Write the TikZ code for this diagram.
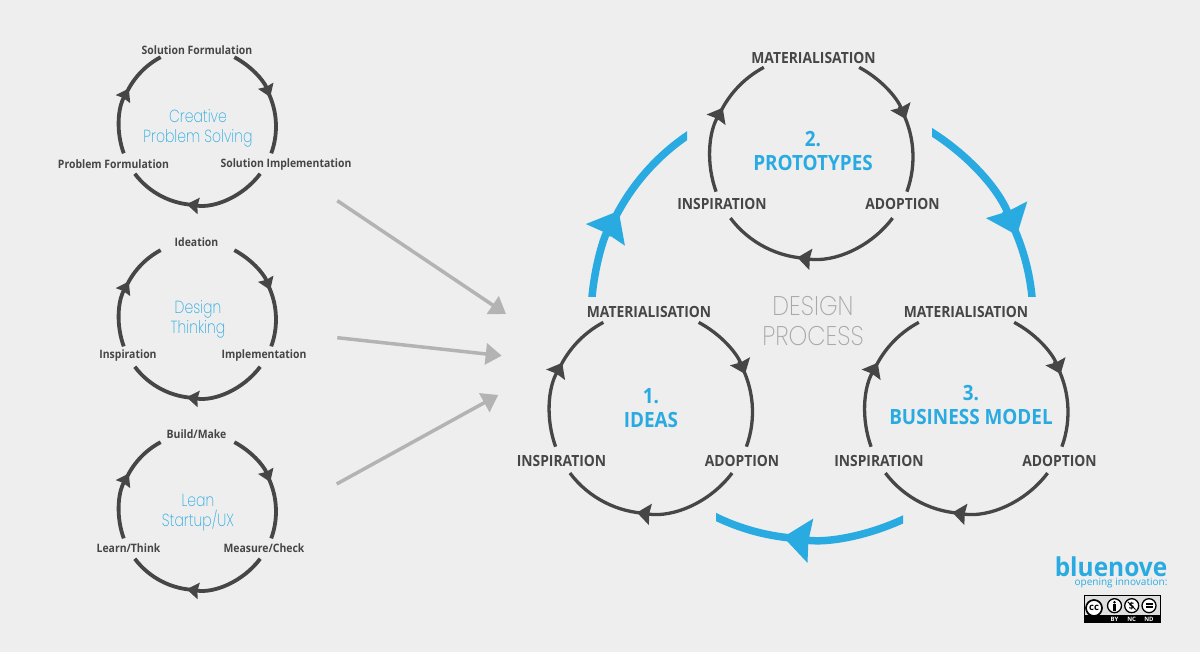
\documentclass[tikz,border=0pt]{standalone}
\usepackage{fontspec}
\setmainfont{Open Sans}[FakeStretch=0.9]
\newfontfamily\logof{Open Sans}[FakeStretch=0.94]
\newfontfamily\thinf{Poppins ExtraLight}[FakeStretch=0.8]
\newfontfamily\dsgf{Poppins ExtraLight}[FakeStretch=0.88]
\newfontfamily\plainf{Open Sans}
\usetikzlibrary{arrows.meta,calc}
\definecolor{bgc}{HTML}{EEEEEE}
\definecolor{dk}{HTML}{464646}
\definecolor{blu}{HTML}{29ABE2}
\definecolor{gra}{HTML}{B3B3B3}
\definecolor{dsg}{HTML}{A8A8A8}
\tikzset{
 biglabel/.style={font=\fontsize{15.4}{16}\selectfont\bfseries,text=dk,inner sep=0pt},
 smlabel/.style={font=\fontsize{11.6}{12}\selectfont\bfseries,text=dk,inner sep=0pt},
 bigtitle/.style={font=\fontsize{21}{24}\selectfont\bfseries,text=blu,inner sep=0pt},
 smtitle/.style={font=\thinf\fontsize{17.5}{20}\selectfont,text=blu,inner sep=0pt},
 dsgtitle/.style={font=\dsgf\fontsize{27}{30}\selectfont,text=dsg,inner sep=0pt},
 biggrey/.style={draw=gra,line width=3.5pt,-{Triangle[length=16pt,width=21pt,fill=gra]}},
 bigarc/.style={draw=dk,line width=3.3pt},
 smarc/.style={draw=dk,line width=3.8pt},
 bigtip/.style={-{Stealth[length=13.5pt,width=21pt,inset=1.2pt,fill=dk]}},
 smtip/.style={-{Stealth[length=12pt,width=16pt,inset=1pt,fill=dk]}},
 bluarc/.style={draw=blu,line width=7.5pt},
 blutip/.style={-{Stealth[length=27pt,width=43pt,inset=1.5pt,fill=blu]}},
 ccring/.style={draw=black,line width=1.3pt,fill=white,circle,inner sep=0pt,minimum size=14pt},
 cctext/.style={inner sep=0pt,text=white,font=\plainf\fontsize{6}{6}\selectfont\bfseries},
}
% \cyc{name}{cx}{cy}{r}{arc style}{tip style}
\newcommand{\cyc}[6]{%
 \coordinate (#1) at (#2,#3);
 \coordinate (#1a) at ($(#1)+(62:#4)$);
 \coordinate (#1b) at ($(#1)+(-37:#4)$);
 \coordinate (#1c) at ($(#1)+(200:#4)$);
 \draw[#5,#6] (#1a) arc[start angle=62,end angle=22,radius=#4];
 \draw[#5] (#1)++(30:#4) arc[start angle=30,end angle=-20,radius=#4];
 \draw[#5,#6] (#1b) arc[start angle=-37,end angle=-98,radius=#4];
 \draw[#5] (#1)++(-91:#4) arc[start angle=-91,end angle=-143,radius=#4];
 \draw[#5,#6] (#1c) arc[start angle=200,end angle=151,radius=#4];
 \draw[#5] (#1)++(158:#4) arc[start angle=158,end angle=118,radius=#4];
}
\begin{document}
\begin{tikzpicture}[x=1pt,y=1pt]
\useasboundingbox (0,0) rectangle (1200,652);
\fill[bgc] (0,0) rectangle (1200,652);
% small cycles
\cyc{s1}{197.5}{525.5}{78.5}{smarc}{smtip}
\cyc{s2}{197.5}{332.5}{78.5}{smarc}{smtip}
\cyc{s3}{197.5}{140.5}{78.5}{smarc}{smtip}
\node[smlabel] (s1t) at (197,601.5) {Solution Formulation};
\node[smlabel] (s1l) at (113.5,488) {Problem Formulation};
\node[smlabel] (s1r) at (286,488) {Solution Implementation};
\node[smtitle,align=center] (s1m) at (198,524) {Creative\\Problem Solving};
\node[smlabel] (s2t) at (196.5,410) {Ideation};
\node[smlabel] (s2l) at (128,297) {Inspiration};
\node[smlabel] (s2r) at (264,297) {Implementation};
\node[smtitle,align=center] (s2m) at (198,333) {Design\\Thinking};
\node[smlabel] (s3t) at (196.5,218) {Build/Make};
\node[smlabel] (s3l) at (128.5,104) {Learn/Think};
\node[smlabel] (s3r) at (264,104) {Measure/Check};
\node[smtitle,align=center] (s3m) at (198,139.5) {Lean\\Startup/UX};
% big cycles
\cyc{b1}{651}{240}{101.5}{bigarc}{bigtip}
\cyc{b2}{811.5}{495}{101.5}{bigarc}{bigtip}
\cyc{b3}{966.5}{240}{101.5}{bigarc}{bigtip}
\node[biglabel] (b1t) at (649,340) {MATERIALISATION};
\node[biglabel] (b1l) at (561.5,191.5) {INSPIRATION};
\node[biglabel] (b1r) at (742,191.5) {ADOPTION};
\node[bigtitle,align=center] (b1m) at (651,244) {1.\\IDEAS};
\node[biglabel] (b2t) at (813.5,594) {MATERIALISATION};
\node[biglabel] (b2l) at (722,447.5) {INSPIRATION};
\node[biglabel] (b2r) at (902.5,447.5) {ADOPTION};
\node[bigtitle,align=center] (b2m) at (813,500.5) {2.\\PROTOTYPES};
\node[biglabel] (b3t) at (966,340) {MATERIALISATION};
\node[biglabel] (b3l) at (879,191.5) {INSPIRATION};
\node[biglabel] (b3r) at (1059.5,191.5) {ADOPTION};
\node[bigtitle,align=center] (b3m) at (971,247) {3.\\BUSINESS MODEL};
\node[dsgtitle,align=center] (dp) at (813,331) {DESIGN\\PROCESS};
% blue arcs
\coordinate (C) at (812,334);
\begin{scope}
\clip (560,355) rectangle (687,560);
\draw[bluarc,blutip] (C)++(177:221) arc[start angle=177,end angle=151,radius=221];
\draw[bluarc] (C)++(158:221) arc[start angle=158,end angle=116,radius=221];
\end{scope}
\begin{scope}
\clip (932,355) rectangle (1060,560);
\draw[bluarc,blutip] (C)++(64:221) arc[start angle=64,end angle=22,radius=221];
\draw[bluarc] (C)++(29:221) arc[start angle=29,end angle=2,radius=221];
\end{scope}
\begin{scope}
\clip (716,60) rectangle (903,160);
\draw[bluarc,blutip] (C)++(-60:221) arc[start angle=-60,end angle=-97.5,radius=221];
\draw[bluarc] (C)++(-91:221) arc[start angle=-91,end angle=-120,radius=221];
\end{scope}
% grey arrows
\coordinate (g1) at (337.3,451.3);
\coordinate (g2) at (337.3,314.3);
\coordinate (g3) at (336.7,168);
\coordinate (h1) at (506,338);
\coordinate (h2) at (501.7,296.3);
\coordinate (h3) at (498.3,257);
\draw[biggrey] (g1) -- (h1);
\draw[biggrey] (g2) -- (h2);
\draw[biggrey] (g3) -- (h3);
% logo
\node[anchor=base,inner sep=0pt,text=blu,font=\logof\fontsize{26}{26}\selectfont\bfseries] (logo) at (1111,75) {bluenove};
\node[anchor=base,inner sep=0pt,text=blu,font=\plainf\fontsize{10}{10}\selectfont] (tag) at (1121,66) {opening innovation:};
% licence badge
\fill[black] (1084,29) rectangle (1161,57);
\fill[gray!25] (1085,37) rectangle (1160,56);
\node[ccring,minimum size=16pt,line width=1.7pt] (cc) at (1094,44) {\plainf\fontsize{9.5}{9.5}\selectfont\bfseries cc};
\node[ccring] (by) at (1114.5,46.3) {};
\fill[black] (by.center)++(0,3.5) circle (1.4);
\fill[black] (1113,40.8) rectangle (1116,47.8);
\node[ccring] (nc) at (1131.7,46.3) {\plainf\fontsize{9.5}{9.5}\selectfont\bfseries \$};
\draw[black,line width=1pt] (nc.north west)++(1.5,-1.5) -- ($(nc.south east)+(-1.5,1.5)$);
\node[ccring] (nd) at (1149,46.3) {};
\fill[black] (1145.5,47) rectangle (1152.5,48.6);
\fill[black] (1145.5,44) rectangle (1152.5,45.6);
\node[cctext] (byt) at (1114.5,33) {BY};
\node[cctext] (nct) at (1131.7,33) {NC};
\node[cctext] (ndt) at (1149,33) {ND};
\end{tikzpicture}
\end{document}
